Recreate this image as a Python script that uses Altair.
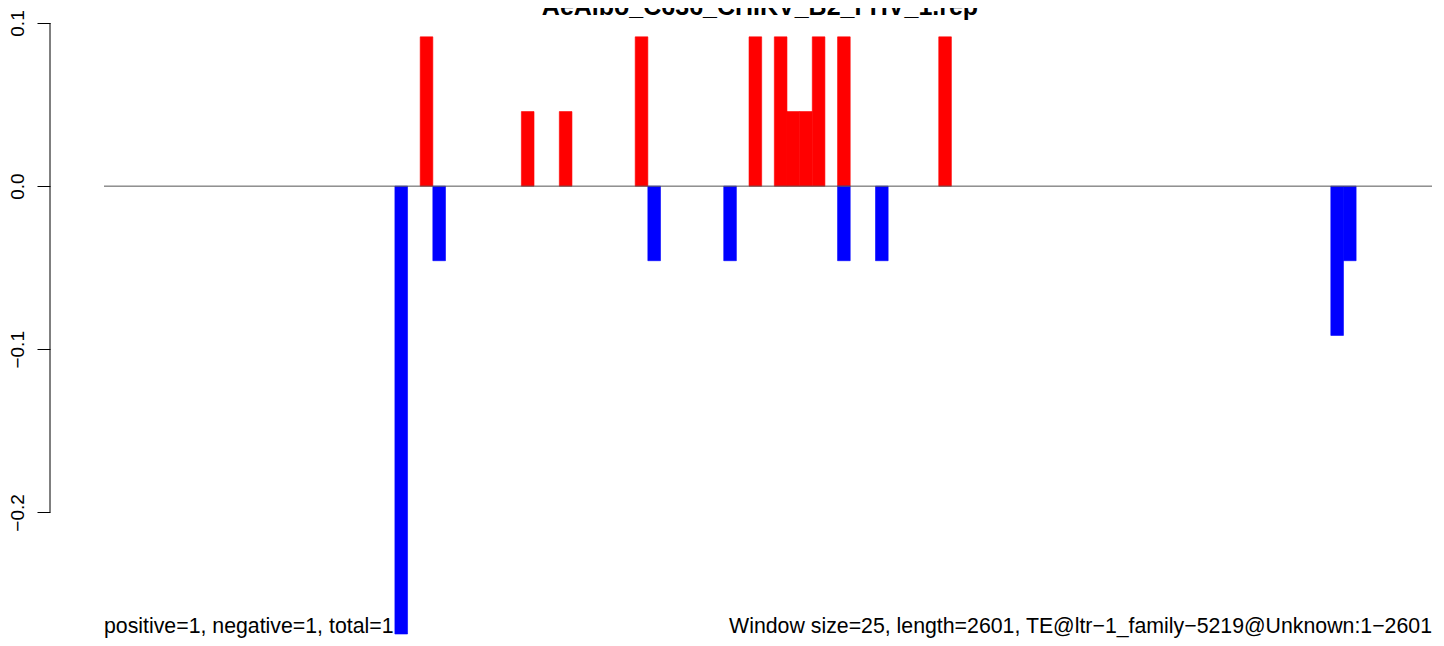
import altair as alt
import pandas as pd

# ---- data ----
n_windows = 105  # length 2601 / window size 25
red_windows = [25, 33, 36, 42, 51, 53, 54, 55, 56, 58, 66]
red_values = [0.0915, 0.0457, 0.0457, 0.0915, 0.0915, 0.0915, 0.0457, 0.0457, 0.0915, 0.0915, 0.0915]
blue_windows = [23, 26, 43, 49, 58, 61, 97, 98]
blue_values = [-0.2745, -0.0457, -0.0457, -0.0457, -0.0457, -0.0457, -0.0915, -0.0457]
y_ticks = [0.1, 0.0, -0.1, -0.2]
y_domain = [-0.2745, 0.1]

title_text = "AeAlbo_C636_CHIKV_B2_FHV_1.rep"
left_note = "positive=1, negative=1, total=1"
right_note = "Window size=25, length=2601, TE@ltr\u22121_family\u22125219@Unknown:1\u22122601"

FONT = "Liberation Sans"

bars = pd.DataFrame({
    "window": red_windows + blue_windows,
    "value": red_values + blue_values,
    "strand": ["pos"] * len(red_windows) + ["neg"] * len(blue_windows),
})
bars["start"] = bars["window"]
bars["end"] = bars["window"] + 1

x_scale = alt.Scale(domain=[0, n_windows], nice=False, zero=False)
y_scale = alt.Scale(domain=y_domain, nice=False, zero=False)
strand_scale = alt.Scale(domain=["pos", "neg"], range=["#ff0000", "#0000ff"])

bar_layer = alt.Chart(bars).mark_bar(strokeWidth=0.6).encode(
    x=alt.X("start:Q", scale=x_scale, axis=None),
    x2="end:Q",
    y=alt.Y(
        "value:Q",
        scale=y_scale,
        axis=alt.Axis(
            values=y_ticks, format=".1f", domain=False, grid=False,
            tickSize=13, offset=54, labelAngle=270, labelAlign="center",
            labelBaseline="alphabetic", labelPadding=14, labelFont=FONT,
            labelFontSize=19, labelColor="black", tickColor="black",
            tickWidth=1, title=None,
        ),
    ),
    y2=alt.datum(0),
    color=alt.Color("strand:N", scale=strand_scale, legend=None),
    stroke=alt.Stroke("strand:N", scale=strand_scale, legend=None),
)

axis_line = alt.Chart(pd.DataFrame({"top": [max(y_ticks)], "bot": [min(y_ticks)]})).mark_rule(
    color="black", strokeWidth=1
).encode(x=alt.value(-54), y=alt.Y("top:Q", scale=y_scale), y2="bot:Q")

zero_line = alt.Chart(pd.DataFrame({"z": [0.0]})).mark_rule(color="#555555", strokeWidth=1).encode(
    y=alt.Y("z:Q", scale=y_scale), x=alt.value(0), x2=alt.value(1328)
)

title = alt.Chart(pd.DataFrame({"t": [title_text]})).mark_text(
    font=FONT, fontSize=25, fontWeight="bold", align="center", baseline="alphabetic", color="black"
).encode(x=alt.value(656), y=alt.value(-8), text="t:N")

left = alt.Chart(pd.DataFrame({"t": [left_note]})).mark_text(
    font=FONT, fontSize=21.3, align="left", baseline="alphabetic", color="black"
).encode(x=alt.value(0), y=alt.value(610), text="t:N")

right = alt.Chart(pd.DataFrame({"t": [right_note]})).mark_text(
    font=FONT, fontSize=21.3, align="right", baseline="alphabetic", color="black"
).encode(x=alt.value(1328), y=alt.value(610), text="t:N")

chart = alt.layer(bar_layer, zero_line, axis_line, title, left, right).properties(
    width=1328,
    height=611,
    padding={"left": 96, "top": 15, "right": 4, "bottom": 4},
    autosize=alt.AutoSizeParams(type="none"),
).configure_view(stroke=None)

chart.save("out.html", embed_options={"renderer": "svg", "actions": False})
